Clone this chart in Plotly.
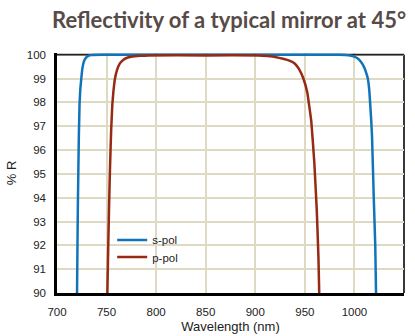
import plotly.graph_objects as go

# Data
wl_s = [720.2, 721.0, 722.0, 722.8, 723.6, 724.5, 725.5, 727.0, 729.0, 731.5, 735.0, 745.0,
        800.0, 900.0, 985.0, 994.0, 999.0, 1003.0, 1006.5, 1009.5, 1011.8, 1013.5, 1015.0,
        1015.8, 1017.0, 1017.8, 1019.5, 1021.0, 1021.8]
r_s = [90.0, 93.5, 96.5, 98.0, 98.6, 99.0, 99.4, 99.7, 99.86, 99.95, 99.99, 100.0,
       100.0, 100.0, 100.0, 99.98, 99.93, 99.85, 99.7, 99.5, 99.25, 99.0, 98.5,
       98.0, 97.2, 96.5, 94.0, 92.0, 90.0]

wl_p = [750.8, 751.7, 752.6, 753.5, 754.6, 755.8, 757.0, 758.5, 760.5, 763.0, 766.0, 770.0,
        776.0, 784.0, 792.0, 850.0, 903.5, 912.0, 920.0, 928.0, 935.0, 940.0, 944.0, 948.5,
        952.5, 956.5, 959.5, 962.0, 963.7, 964.5]
r_p = [90.0, 92.0, 93.8, 95.3, 96.8, 97.9, 98.5, 99.0, 99.35, 99.6, 99.75, 99.86,
       99.92, 99.95, 99.97, 99.97, 99.97, 99.94, 99.9, 99.83, 99.74, 99.62, 99.4, 99.0,
       98.4, 97.2, 95.5, 93.5, 91.5, 90.0]

x_ticks = [700, 750, 800, 850, 900, 950, 1000, 1050]
y_ticks = [90, 91, 92, 93, 94, 95, 96, 97, 98, 99, 100]

BLUE = "#1174bb"
RED = "#962a12"
GRID = "#ddd9c3"

fig = go.Figure()
fig.add_trace(go.Scatter(x=wl_s, y=r_s, mode="lines", name="s-pol", legend="legend",
                         line=dict(color=BLUE, width=2.5, shape="spline", smoothing=0.2)))
fig.add_trace(go.Scatter(x=wl_p, y=r_p, mode="lines", name="p-pol", legend="legend2",
                         line=dict(color=RED, width=2.5, shape="spline", smoothing=0.2)))

leg_common = dict(xanchor="left", yanchor="middle", bgcolor="rgba(0,0,0,0)", borderwidth=0,
                  itemwidth=30, font=dict(size=11.5, color="#222222"), itemclick=False)

fig.update_layout(
    width=415, height=336,
    margin=dict(l=57, r=11, t=53, b=43, autoexpand=False),
    paper_bgcolor="white", plot_bgcolor="white",
    font=dict(family="Liberation Sans, Arial, sans-serif", size=11.5, color="#222222"),
    title=dict(text="<b>Reflectivity of a typical mirror at 45°</b>",
               x=0.552, xanchor="center", y=0.94, yanchor="middle",
               font=dict(family="Lato, sans-serif", size=22, color="#574b47")),
    showlegend=True,
    legend=dict(x=0.159, y=0.221, **leg_common),
    legend2=dict(x=0.159, y=0.15, **leg_common),
)
fig.update_xaxes(range=[700, 1050], tickvals=x_ticks, ticktext=[str(v) for v in x_ticks],
                 showgrid=True, gridcolor=GRID, gridwidth=2, automargin=False,
                 showline=True, linecolor="black", linewidth=2.5,
                 ticks="", zeroline=False, ticklabelstandoff=6,
                 title=dict(text="Wavelength (nm)", standoff=6, font=dict(size=13)))
fig.update_yaxes(range=[90, 100.07], tickvals=y_ticks, ticktext=[str(v) for v in y_ticks],
                 showgrid=True, gridcolor=GRID, gridwidth=2, automargin=False,
                 showline=True, linecolor="black", linewidth=2.5,
                 ticks="", zeroline=False, ticklabelstandoff=6,
                 title=dict(text="% R", standoff=8, font=dict(size=13)))

# white panel behind the legend (hides gridlines there)
fig.add_shape(type="rect", xref="paper", yref="paper", x0=0.196, x1=0.383, y0=0.117, y1=0.254,
              fillcolor="white", line=dict(width=0), layer="between")
# top and right frame lines
fig.add_shape(type="line", xref="x", yref="y", x0=700, x1=1050, y0=100, y1=100,
              line=dict(color="#222222", width=1.8), layer="between")
fig.add_shape(type="line", xref="paper", yref="y", x0=1, x1=1, y0=90, y1=100,
              line=dict(color="#222222", width=1.8), layer="between")

fig.write_html("out.html", config={"displayModeBar": False},
               post_script="document.body.style.margin='0';document.body.style.padding='0';")
